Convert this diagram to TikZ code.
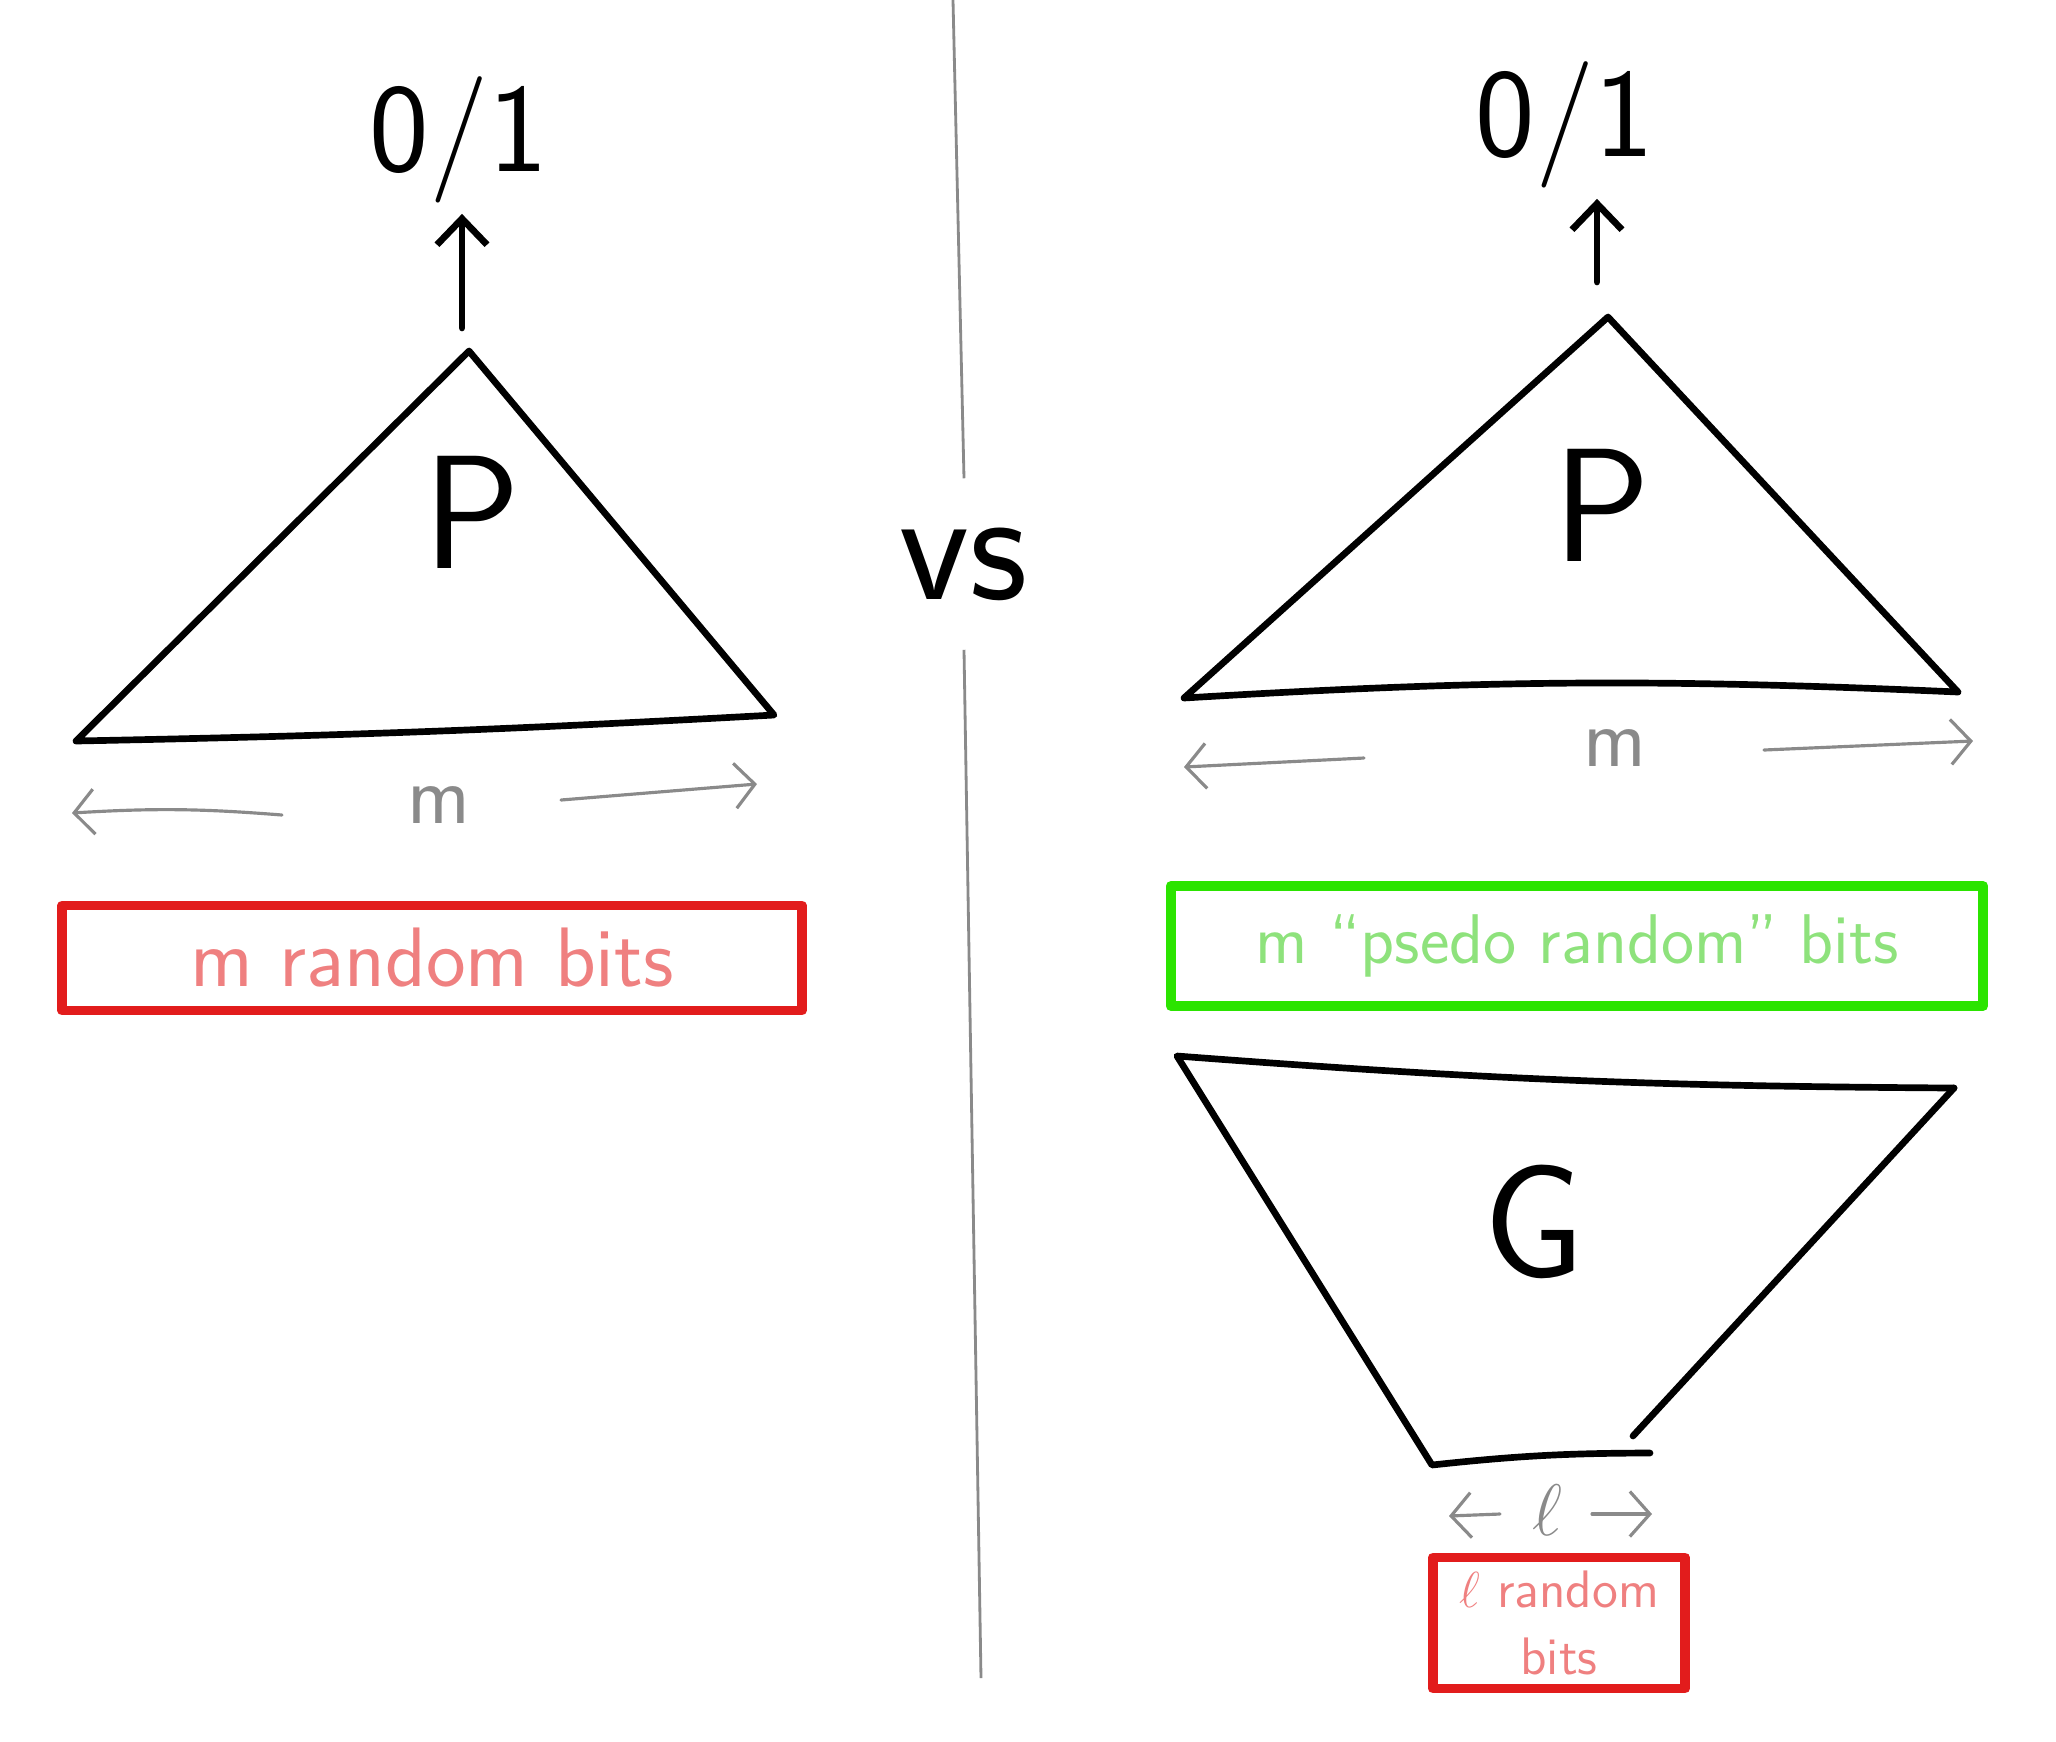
\documentclass[tikz,border=0pt]{standalone}
\usepackage{tikz}
\usetikzlibrary{positioning,arrows.meta}
\definecolor{pen}{HTML}{E21C1C}
\definecolor{lightpen}{HTML}{EF8080}
\definecolor{leaf}{HTML}{2BE400}
\definecolor{lightleaf}{HTML}{8EE27C}
\definecolor{grey}{HTML}{8A8A8A}
\tikzset{
  stroke/.style={draw=black,line width=1.9pt,line cap=round,line join=round},
  redbox/.style={draw=pen,line width=2.8pt,line join=round,text=lightpen,align=center,inner sep=0pt},
  greenbox/.style={draw=leaf,line width=2.8pt,line join=round,text=lightleaf,align=center,inner sep=0pt},
  outflow/.style={-{Straight Barb[length=2.6mm,width=5mm]},draw=black,line width=1.9pt,line cap=round},
  lenflow/.style={-{Straight Barb[length=2mm,width=4.5mm]},draw=grey,line width=0.9pt,line cap=round},
  divider/.style={draw=grey,line width=0.8pt},
  lbl/.style={text=grey,font=\sffamily\fontsize{24}{28}\selectfont},
  big/.style={font=\sffamily\fontsize{46}{52}\selectfont},
  bit/.style={font=\sffamily\fontsize{36}{42}\selectfont}}

\begin{document}
\begin{tikzpicture}[x=0.01cm,y=-0.01cm]
  \useasboundingbox (0,0) rectangle (2056,1741);
  % left side
  \coordinate (lapex) at (469,351);
  \coordinate (lbl) at (76,741);
  \coordinate (lbr) at (774,715);
  \coordinate (ltail) at (462,328);
  \draw[stroke] (lapex) -- (lbl) to[bend right=1] (lbr) -- cycle;
  \node[big] (lp) at (472,512) {P};
  \node[bit,inner sep=0pt] (lout) at (459,140) {0/1};
  \draw[outflow] (ltail) -- ([yshift=-0.1cm]ltail |- lout.south);
  \node[lbl] (lm) at (439,805) {m};
  \coordinate (lmA) at (282,815);
  \coordinate (lmL) at (72,813);
  \coordinate (lmB) at (561,800);
  \coordinate (lmR) at (757,784);
  \draw[lenflow] (lmA) to[bend right=4] (lmL);
  \draw[lenflow] (lmB) -- (lmR);
  \node[redbox,minimum width=7.39cm,minimum height=1.05cm,font=\sffamily\fontsize{24}{28}\selectfont]
    (lbits) at (432,958) {m random bits};
  % divider
  \node[big,minimum height=1.7cm,inner sep=0pt] (vs) at (964,564) {vs};
  \coordinate (divtop) at (953,0);
  \coordinate (divbot) at (981,1678);
  \draw[divider] (divtop) -- (vs.north);
  \draw[divider] (vs.south) -- (divbot);
  % right side
  \coordinate (rapex) at (1608,317);
  \coordinate (rbl) at (1184,698);
  \coordinate (rbr) at (1958,692);
  \coordinate (rtail) at (1597,282);
  \draw[stroke] (rapex) -- (rbl) to[bend left=3] (rbr) -- cycle;
  \node[big] (rp) at (1602,505) {P};
  \node[bit,inner sep=0pt] (rout) at (1565,125) {0/1};
  \draw[outflow] (rtail) -- ([yshift=-0.1cm]rtail |- rout.south);
  \node[lbl] (rm) at (1615,748) {m};
  \coordinate (rmA) at (1364,758);
  \coordinate (rmL) at (1184,767);
  \coordinate (rmB) at (1764,750);
  \coordinate (rmR) at (1973,741);
  \draw[lenflow] (rmA) -- (rmL);
  \draw[lenflow] (rmB) -- (rmR);
  \node[greenbox,minimum width=8.12cm,minimum height=1.2cm,font=\sffamily\fontsize{20}{24}\selectfont]
    (rbits) at (1577,946) {m ``psedo random'' bits};
  \coordinate (gtl) at (1177,1056);
  \coordinate (gtr) at (1954,1088);
  \coordinate (gbl) at (1432,1465);
  \coordinate (gbr) at (1650,1453);
  \coordinate (grb) at (1633,1436);
  \draw[stroke] (gtr) to[bend left=2] (gtl) -- (gbl) to[bend left=3] (gbr);
  \draw[stroke] (gtr) -- (grb);
  \node[big] (g) at (1534,1222) {G};
  \node[lbl,font=\sffamily\fontsize{20}{24}\selectfont] (rl) at (1547,1510) {$\ell$};
  \coordinate (rlA) at (1500,1514);
  \coordinate (rlL) at (1449,1516);
  \coordinate (rlB) at (1592,1514);
  \coordinate (rlR) at (1652,1514);
  \draw[lenflow] (rlA) -- (rlL);
  \draw[lenflow] (rlB) -- (rlR);
  \node[redbox,minimum width=2.52cm,minimum height=1.31cm,font=\sffamily\fontsize{15}{19}\selectfont]
    (lbitsr) at (1559,1623) {$\ell$ random\\bits};
\end{tikzpicture}
\end{document}
